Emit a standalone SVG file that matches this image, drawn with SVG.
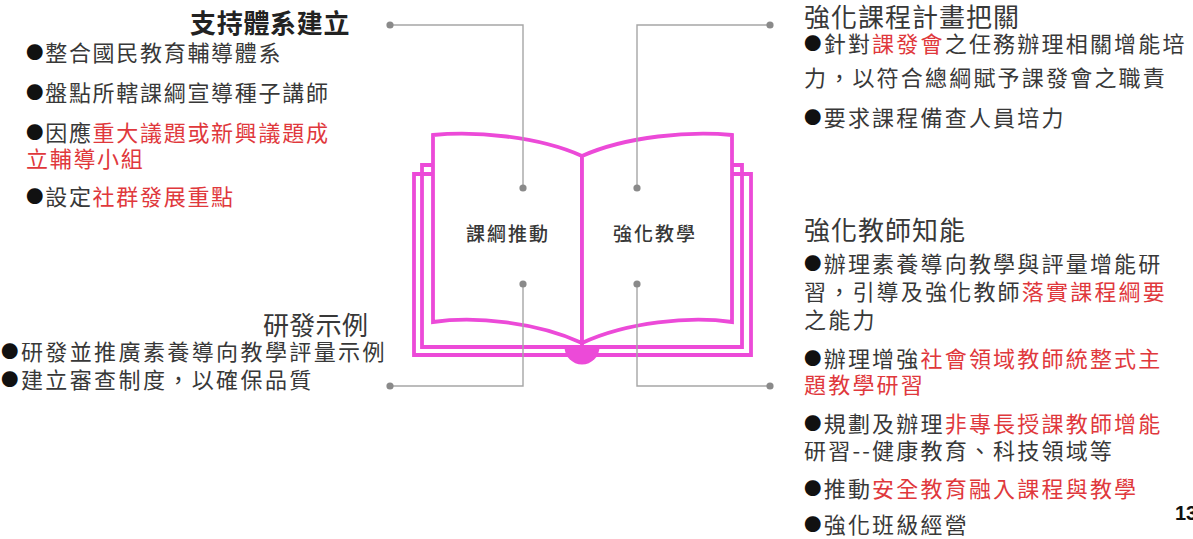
<svg xmlns="http://www.w3.org/2000/svg" width="1193" height="539" viewBox="0 0 1193 539">
<style>
text{font-family:"Noto Sans CJK TC","Noto Sans CJK SC",sans-serif;fill:#383838}
.b{font-size:22px;letter-spacing:2.2px}
.bl{font-size:22px;letter-spacing:1.7px}
.t{font-size:26px;letter-spacing:1px}
.r{fill:#e0383c}
.bu{font-size:17.5px;baseline-shift:1.8px;fill:#111}
.c{font-size:19px;letter-spacing:2px;font-weight:500;text-anchor:middle}
.pk{fill:#fff;stroke:#ec4ad8;stroke-width:3.8;stroke-linejoin:miter}
.pl{fill:none;stroke:#ec4ad8;stroke-width:3.8}
.ln{fill:none;stroke:#a6a6a6;stroke-width:1.4}
.dt{fill:#8a8a8a}
</style>
<rect width="1193" height="539" fill="#fff"/>
<g id="book">
<path class="pl" d="M433,174 L414,174 L414,355 L751,355 L751,174 L732,174"/>
<path class="pl" d="M433,165 L422,165 L422,347 L742,347 L742,165 L732,165"/>
<path class="pk" d="M582,156 C537,136 475,131 433,135 L433,322 C475,316 537,322 582,343 Z"/>
<path class="pk" d="M582,156 C627,136 690,131 732,135 L732,322 C690,316 627,322 582,343 Z"/>
<path d="M564.5,347 A17.5,17.5 0 0 0 599.5,347 Z" fill="#ec4ad8"/>
<text class="c" x="508" y="240.5">課綱推動</text>
<text class="c" x="655" y="240.5">強化教學</text>
</g>
<g id="connectors">
<path class="ln" d="M390,25 H523 V188"/>
<path class="ln" d="M770,25 H637 V188"/>
<path class="ln" d="M390,386 H523 V284"/>
<path class="ln" d="M770,386 H637 V284"/>
<circle class="dt" cx="390" cy="25" r="3.6"/>
<circle class="dt" cx="523" cy="188" r="3.6"/>
<circle class="dt" cx="770" cy="25" r="3.6"/>
<circle class="dt" cx="637" cy="188" r="3.6"/>
<circle class="dt" cx="523" cy="284" r="3.6"/>
<circle class="dt" cx="637" cy="284" r="3.6"/>
<circle class="dt" cx="390" cy="386" r="3.6"/>
<circle class="dt" cx="770" cy="386" r="3.6"/>
</g>
<g id="support">
<text x="190" y="33" style="font-size:26px;font-weight:bold;letter-spacing:0.7px;fill:#222">支持體系建立</text>
<text class="bl" x="26" y="61"><tspan class="bu">●</tspan>整合國民教育輔導體系</text>
<text class="bl" x="26" y="101"><tspan class="bu">●</tspan>盤點所轄課綱宣導種子講師</text>
<text class="bl" x="26" y="141"><tspan class="bu">●</tspan>因應<tspan class="r">重大議題或新興議題成</tspan></text>
<text class="bl r" x="26" y="166.5">立輔導小組</text>
<text class="bl" x="26" y="205"><tspan class="bu">●</tspan>設定<tspan class="r">社群發展重點</tspan></text>
</g>
<g id="curriculum">
<text class="t" x="804" y="27">強化課程計畫把關</text>
<text class="b" x="804" y="52.4"><tspan class="bu">●</tspan>針對<tspan class="r">課發會</tspan>之任務辦理相關增能培</text>
<text class="b" x="804" y="86.4">力，以符合總綱賦予課發會之職責</text>
<text class="b" x="804" y="126.4"><tspan class="bu">●</tspan>要求課程備查人員培力</text>
</g>
<g id="teacher">
<text class="t" x="804" y="240">強化教師知能</text>
<text class="b" x="804" y="271.7"><tspan class="bu">●</tspan>辦理素養導向教學與評量增能研</text>
<text class="b" x="804" y="300">習，引導及強化教師<tspan class="r">落實課程綱要</tspan></text>
<text class="b" x="804" y="328.4">之能力</text>
<text class="b" x="804" y="366.7"><tspan class="bu">●</tspan>辦理增強<tspan class="r">社會領域教師統整式主</tspan></text>
<text class="b r" x="804" y="393.4">題教學研習</text>
<text class="b" x="804" y="431.7"><tspan class="bu">●</tspan>規劃及辦理<tspan class="r">非專長授課教師增能</tspan></text>
<text class="b" x="804" y="459">研習--健康教育、科技領域等</text>
<text class="b" x="804" y="496.7"><tspan class="bu">●</tspan>推動<tspan class="r">安全教育融入課程與教學</tspan></text>
<text class="b" x="804" y="533.4"><tspan class="bu">●</tspan>強化班級經營</text>
</g>
<g id="examples">
<text class="t" x="263" y="335" style="letter-spacing:0.3px">研發示例</text>
<text class="b" x="1" y="360" style="letter-spacing:2.4px"><tspan class="bu">●</tspan>研發並推廣素養導向教學評量示例</text>
<text class="b" x="1" y="388.4" style="letter-spacing:2.4px"><tspan class="bu">●</tspan>建立審查制度，以確保品質</text>
</g>
<g id="page">
<text x="1175" y="520" style="font-family:'Liberation Sans',sans-serif;font-size:20px;font-weight:bold;fill:#111">13</text>
</g>
</svg>
